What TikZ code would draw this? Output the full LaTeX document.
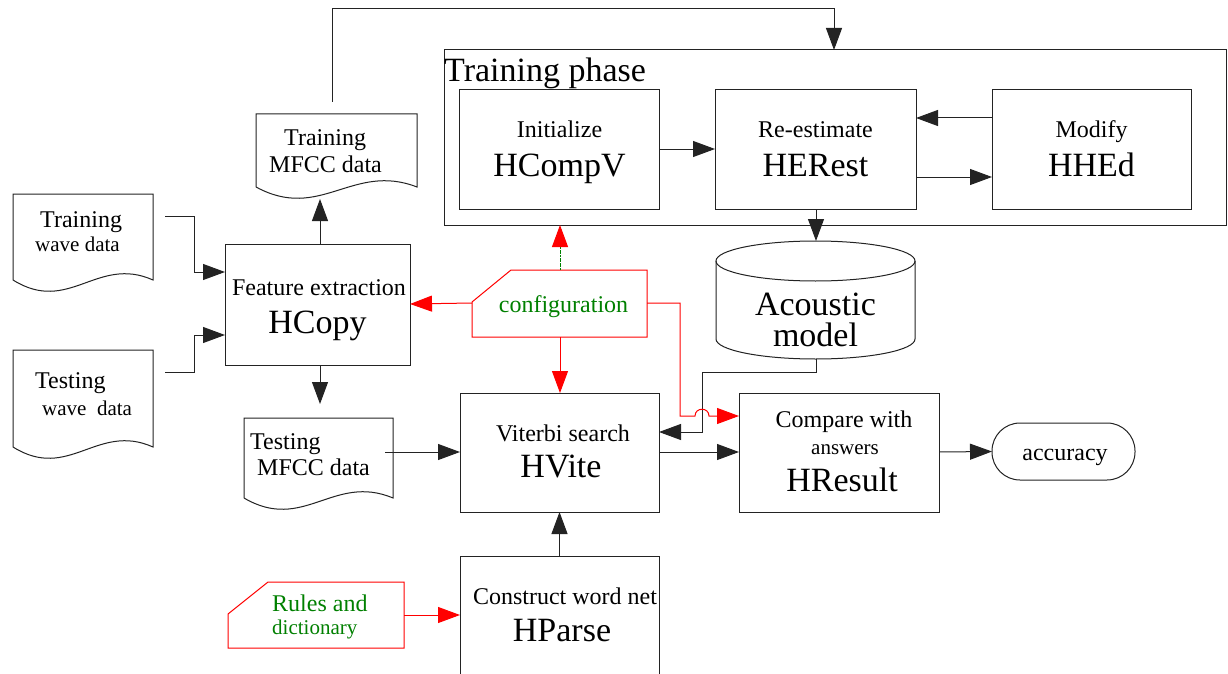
\documentclass[tikz,border=0pt]{standalone}
\usepackage{fontspec}
\setmainfont{Liberation Serif}
\usetikzlibrary{arrows.meta,calc}
\definecolor{cgreen}{RGB}{0,128,0}
\definecolor{cline}{RGB}{35,35,35}
\newcommand\fbig{\fontsize{34}{38}\selectfont}
\newcommand\fmid{\fontsize{24}{27}\selectfont}
\newcommand\fsml{\fontsize{21}{24}\selectfont}
\newcommand\docoutline[1]{\draw[ln] (#1.south west) -- (#1.north west) -- (#1.north east) -- (#1.south east) .. controls ($(#1.south east)!0.4!(#1.south west)+(0,-25)$) and ($(#1.south west)!0.4!(#1.south east)+(0,35)$) .. (#1.south west);}
\tikzset{
 ln/.style={draw=cline, line width=1pt},
 box/.style={ln, rectangle, inner sep=0pt, outer sep=0pt},
 ghost/.style={rectangle, inner sep=0pt, outer sep=0pt},
 txt/.style={inner sep=0pt, anchor=base},
 txtl/.style={inner sep=0pt, anchor=base west},
 arr/.style={ln, -{Triangle[length=22pt,width=16pt]}},
 rarr/.style={draw=red, line width=1pt, -{Triangle[length=22pt,width=16pt]}},
 redshape/.style={draw=red, line width=1pt},
}
\begin{document}
\begin{tikzpicture}[x=1pt,y=-1pt]
\clip (0,0) rectangle (1228,674);
\fill[white] (0,0) rectangle (1228,674);
% ---------- training phase ----------
\node[box, minimum width=782pt, minimum height=175pt] (tp) at (835,137.5) {};
\node[txtl, font=\fbig] (tpl) at (444,82) {Training phase};
\node[box, minimum width=200pt, minimum height=119pt] (hcv) at (559.5,149.5) {};
\node[txt, font=\fmid] (hcv1) at (559.5,138) {Initialize};
\node[txt, font=\fbig] (hcv2) at (559.5,176) {HCompV};
\node[box, minimum width=201pt, minimum height=119pt] (her) at (815.5,149.5) {};
\node[txt, font=\fmid] (her1) at (815.5,138) {Re-estimate};
\node[txt, font=\fbig] (her2) at (815.5,176) {HERest};
\node[box, minimum width=199pt, minimum height=119pt] (hhe) at (1091.5,149.5) {};
\node[txt, font=\fmid] (hhe1) at (1091.5,138) {Modify};
\node[txt, font=\fbig] (hhe2) at (1091.5,176) {HHEd};
% ---------- acoustic model ----------
\node[ghost, minimum width=199pt, minimum height=118pt] (am) at (815.5,300) {};
\draw[ln] (815.5,261) ellipse [x radius=99.5pt, y radius=20pt];
\draw[ln] (am.west |- 0,261) -- (am.west |- 0,339) .. controls (716,350) and (760.5,359) .. (am.south) .. controls (870.5,359) and (915,350) .. (am.east |- 0,339) -- (am.east |- 0,261);
\node[txt, font=\fbig] (am1) at (815.5,315) {Acoustic};
\node[txt, font=\fbig] (am2) at (815.5,346) {model};
% ---------- feature extraction ----------
\node[box, minimum width=185pt, minimum height=121pt] (hcopy) at (317.5,304.5) {};
\node[txt, font=\fmid] (hcopy1) at (319,295) {Feature extraction};
\node[txt, font=\fbig] (hcopy2) at (317.5,333) {HCopy};
% ---------- documents ----------
\node[ghost, minimum width=140pt, minimum height=86pt] (tw) at (83,237) {};
\docoutline{tw}
\node[txtl, font=\fmid] (tw1) at (40,227) {Training};
\node[txtl, font=\fsml] (tw2) at (35,251) {wave data};
\node[ghost, minimum width=140pt, minimum height=97pt] (sw) at (83,398.5) {};
\docoutline{sw}
\node[txtl, font=\fmid] (sw1) at (35,388) {Testing};
\node[txtl, font=\fsml] (sw2) at (42,415) {wave\enspace data};
\node[ghost, minimum width=161pt, minimum height=73pt] (tm) at (336.5,150.5) {};
\docoutline{tm}
\node[txtl, font=\fmid] (tm1) at (284,146) {Training};
\node[txtl, font=\fmid] (tm2) at (269,172) {MFCC data};
\node[ghost, minimum width=149pt, minimum height=80pt] (sm) at (318.5,458) {};
\docoutline{sm}
\node[txtl, font=\fmid] (sm1) at (250,449) {Testing};
\node[txtl, font=\fmid] (sm2) at (257,475) {MFCC data};
% ---------- recognition ----------
\node[box, minimum width=199pt, minimum height=119pt] (hvite) at (559.5,452.5) {};
\node[txt, font=\fmid] (hvite1) at (563,441) {Viterbi search};
\node[txt, font=\fbig] (hvite2) at (561,477) {HVite};
\node[box, minimum width=200pt, minimum height=119pt] (hres) at (839,452.5) {};
\node[txt, font=\fmid] (hres1) at (844,427) {Compare with};
\node[txt, font=\fsml] (hres2) at (845,454) {answers};
\node[txt, font=\fbig] (hres3) at (842,491) {HResult};
\node[box, rounded corners=28pt, minimum width=143pt, minimum height=57pt] (acc) at (1063.5,451.5) {};
\node[txt, font=\fmid] (acc1) at (1065,460) {accuracy};
\node[box, minimum width=199pt, minimum height=140pt] (hparse) at (559.5,626) {};
\node[txt, font=\fmid] (hparse1) at (565,604) {Construct word net};
\node[txt, font=\fbig] (hparse2) at (562,641) {HParse};
% ---------- configuration & rules ----------
\node[ghost, minimum width=175pt, minimum height=67pt] (cfg) at (559.5,303.5) {};
\draw[redshape] (cfg.west |- 0,302) -- (511,270) -- (cfg.north east) -- (cfg.south east) -- (cfg.south west) -- cycle;
\node[txt, font=\fmid, text=cgreen] (cfg1) at (563.5,312) {configuration};
\node[ghost, minimum width=176pt, minimum height=66pt] (rul) at (316,615) {};
\draw[redshape] (rul.west |- 0,614) -- (268,582) -- (rul.north east) -- (rul.south east) -- (rul.south west) -- cycle;
\node[txtl, font=\fmid, text=cgreen] (rul1) at (272,611) {Rules and};
\node[txtl, font=\fsml, text=cgreen] (rul2) at (272,634) {dictionary};
% ---------- coordinates for free ends ----------
\coordinate (twout) at (165,216);
\coordinate (swout) at (165,372);
\coordinate (tmin) at (320,199);
\coordinate (smin) at (320,404);
\coordinate (tmout) at (332,102);
\coordinate (smout) at (385,452);
% ---------- black connectors ----------
\draw[arr] (twout) -- (194,216) |- (hcopy.west |- 0,272);
\draw[arr] (swout) -- (194,372) |- (hcopy.west |- 0,335);
\draw[arr] (hcopy.north -| tmin) -- (tmin);
\draw[arr] (hcopy.south -| smin) -- (smin);
\draw[arr] (tmout) -- (332,9) -| (tp.north -| 834,0);
\draw[arr] (hcv.east |- 0,149) -- (her.west |- 0,149);
\draw[arr] (hhe.west |- 0,118) -- (her.east |- 0,118);
\draw[arr] (her.east |- 0,177) -- (hhe.west |- 0,177);
\draw[arr] (her.south -| 816,0) -- (816,241);
\draw[arr] (am.south -| 816,0) -- (816,372) -| (702,432) -- (hvite.east |- 0,432);
\draw[arr] (smout) -- (hvite.west |- 0,452);
\draw[arr] (hvite.east |- 0,452) -- (hres.west |- 0,452);
\draw[arr] (hres.east |- 0,452) -- (acc.west);
\draw[arr] (hparse.north) -- (hvite.south);
% ---------- red connectors ----------
\draw[rarr] (cfg.west |- 0,303) -- (hcopy.east |- 0,304);
\draw[draw=cgreen, line width=1pt, dash pattern=on 2pt off 0.6pt, -{Triangle[length=22pt,width=16pt,color=red]}] (cfg.north -| 560,0) -- (tp.south -| 560,0);
\draw[rarr] (cfg.south -| 560,0) -- (hvite.north -| 560,0);
\draw[rarr] (cfg.east |- 0,303) -- (680,303) -- (680,416) -- (695,416) .. controls (695,407) and (709,407) .. (709,416) -- (hres.west |- 0,416);
\draw[rarr] (rul.east) -- (hparse.west |- rul.east);
\end{tikzpicture}
\end{document}
